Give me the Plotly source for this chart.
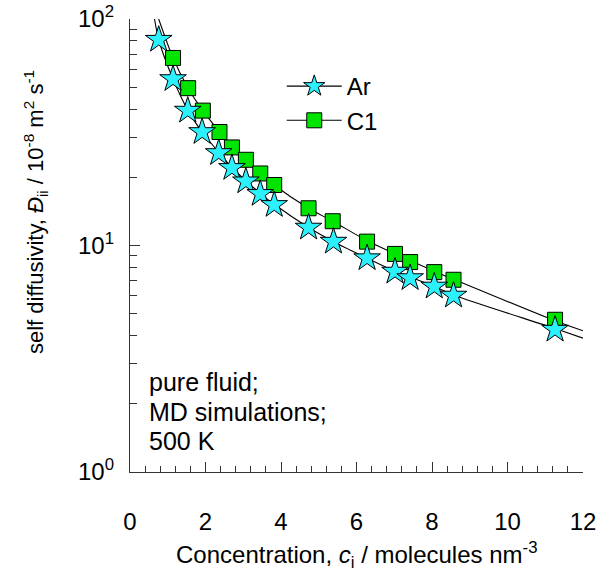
import plotly.graph_objects as go

# ---- data ----
ar_c = [0.76, 1.14, 1.53, 1.91, 2.35, 2.70, 3.07, 3.45, 3.82, 4.73, 5.39, 6.28, 7.02, 7.42, 8.06, 8.57, 11.26]
ar_d = [81.0, 54.3, 39.4, 31.7, 25.6, 22.0, 19.2, 16.9, 15.1, 12.0, 10.4, 8.79, 7.67, 7.18, 6.59, 6.01, 4.25]

c1_c = [1.14, 1.54, 1.93, 2.37, 2.70, 3.07, 3.45, 3.82, 4.73, 5.37, 6.28, 7.02, 7.42, 8.06, 8.57, 11.26]
c1_d = [67.3, 49.5, 39.4, 31.7, 27.1, 23.9, 20.8, 18.5, 14.6, 12.8, 10.4, 9.18, 8.45, 7.63, 7.06, 4.70]

# fitted curves
ar_fit_c = [0.65, 0.76, 1.14, 1.53, 1.91, 2.35, 2.70, 3.07, 3.45, 3.82, 4.73, 5.39, 6.28, 7.02, 8.06, 8.57, 11.26, 12.0]
ar_fit_d = [100.0, 81.0, 54.3, 39.6, 31.7, 25.8, 22.1, 19.3, 17.0, 15.2, 12.0, 10.4, 8.8, 7.7, 6.6, 6.05, 4.3, 3.90]
c1_fit_c = [0.76, 1.14, 1.54, 1.93, 2.37, 2.70, 3.07, 3.45, 3.82, 4.73, 5.37, 6.28, 7.02, 8.06, 8.57, 11.26, 12.0]
c1_fit_d = [100.0, 67.3, 49.5, 39.4, 31.7, 27.1, 23.9, 20.9, 18.5, 14.6, 12.8, 10.5, 9.2, 7.7, 7.1, 4.65, 4.20]

x_ticks = [0, 2, 4, 6, 8, 10, 12]
y_ticks = [1, 10, 100]
y_ticktext = ["10<sup>0</sup>", "10<sup>1</sup>", "10<sup>2</sup>"]
y_minor = [2, 3, 4, 5, 6, 7, 8, 9, 20, 30, 40, 50, 60, 70, 80, 90]

FONT = "Liberation Sans, Arial, sans-serif"
CYAN = "#2cf0fb"
GREEN = "#00e400"

L, R, T, B = 130, 25, 19, 100
PW, PH = 608 - L - R, 572 - T - B

fig = go.Figure()

fig.add_trace(go.Scatter(x=ar_fit_c, y=ar_fit_d, mode="lines",
                         line=dict(color="black", width=1.1, shape="spline", smoothing=0.8),
                         showlegend=False, hoverinfo="skip"))
fig.add_trace(go.Scatter(x=c1_fit_c, y=c1_fit_d, mode="lines",
                         line=dict(color="black", width=1.1, shape="spline", smoothing=0.8),
                         showlegend=False, hoverinfo="skip"))

fig.add_trace(go.Scatter(x=c1_c, y=c1_d, mode="markers", name="C1",
                         marker=dict(symbol="square", size=15, color=GREEN,
                                     line=dict(color="black", width=1)),
                         showlegend=False))
fig.add_trace(go.Scatter(x=ar_c, y=ar_d, mode="markers", name="Ar",
                         marker=dict(symbol="star", size=20, color=CYAN,
                                     line=dict(color="black", width=1)),
                         showlegend=False))

# legend entries (line + marker)
fig.add_trace(go.Scatter(x=[None], y=[None], mode="lines+markers", name="Ar",
                         line=dict(color="black", width=1.1),
                         marker=dict(symbol="star", size=20, color=CYAN,
                                     line=dict(color="black", width=1))))
fig.add_trace(go.Scatter(x=[None], y=[None], mode="lines+markers", name="C1",
                         line=dict(color="black", width=1.1),
                         marker=dict(symbol="square", size=15, color=GREEN,
                                     line=dict(color="black", width=1))))

fig.update_layout(
    width=608, height=572,
    margin=dict(l=L, r=R, t=T, b=B, autoexpand=False),
    paper_bgcolor="white", plot_bgcolor="white",
    font=dict(family=FONT, size=24, color="black"),
    showlegend=True,
    legend=dict(x=0.335, y=(472 - 64) / PH, xanchor="left", yanchor="top",
                bgcolor="rgba(0,0,0,0)", font=dict(size=24),
                itemwidth=55, tracegroupgap=0),
    xaxis=dict(range=[0, 12], tickvals=x_ticks, ticks="inside", ticklen=10,
               tickwidth=1, tickcolor="#333", showline=True, linecolor="#333",
               linewidth=1.3, showgrid=False, zeroline=False, mirror=False,
               automargin=False,
               tickfont=dict(size=24), ticklabelstandoff=28,
               minor=dict(dtick=0.4, ticks="inside", ticklen=6, tickcolor="#333",
                          showgrid=False)),
    yaxis=dict(type="log", range=[0, 2], tickvals=y_ticks, ticktext=y_ticktext,
               ticks="inside", ticklen=10, tickwidth=1, tickcolor="#333",
               showline=True, linecolor="#333", linewidth=1.3, showgrid=False,
               zeroline=False, mirror=False, automargin=False,
               tickfont=dict(size=24), ticklabelstandoff=10,
               minor=dict(tickvals=y_minor, ticks="inside", ticklen=7,
                          tickcolor="#333", showgrid=False)),
)

fig.add_annotation(text="self diffusivity, <i>Đ</i><sub>ii</sub> / 10<sup>-8</sup> m<sup>2</sup> s<sup>-1</sup>",
                   xref="paper", yref="paper", x=(36 - L) / PW, y=(472 - 212) / PH,
                   xanchor="center", yanchor="middle", textangle=-90,
                   showarrow=False, font=dict(size=22))
fig.add_annotation(text="Concentration, <i>c</i><sub>i</sub> / molecules nm<sup>-3</sup>",
                   xref="paper", yref="paper", x=(356 - L) / PW, y=(472 - 555) / PH,
                   xanchor="center", yanchor="middle",
                   showarrow=False, font=dict(size=24))

for txt, ys in [("pure fluid;", 382), ("MD simulations;", 412), ("500 K", 441)]:
    fig.add_annotation(text=txt, xref="paper", yref="paper",
                       x=(147 - L) / PW, y=(472 - ys) / PH,
                       xanchor="left", yanchor="middle", showarrow=False,
                       font=dict(size=25))

fig.write_html("out.html")
